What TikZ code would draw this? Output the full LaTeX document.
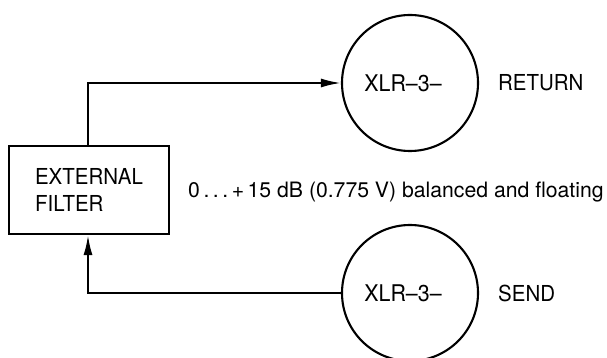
\documentclass[tikz,border=0pt]{standalone}
\usepackage{fontspec}
\setmainfont{TeX Gyre Heros}
\newfontfamily\condfont[FakeStretch=0.93]{TeX Gyre Heros}
\usetikzlibrary{arrows.meta}
\begin{document}
\begin{tikzpicture}[x=1pt,y=1pt,
  line/.style={line width=2.1pt},
  tip/.style={-{Latex[length=20pt,width=9pt]}},
  lbl/.style={font=\condfont\fontsize{22}{27}\selectfont, inner sep=0pt},
  filterbox/.style={draw, line width=2.1pt, minimum width=160pt, minimum height=88pt, inner sep=0pt, align=left, font=\condfont\fontsize{22}{27}\selectfont},
  conn/.style={draw, circle, line width=2.1pt, minimum size=136pt, inner sep=0pt, font=\condfont\fontsize{23}{26}\selectfont}]
\useasboundingbox (0,0) rectangle (607,358);
\node[filterbox] (filt) at (89,168) {EXTERNAL\\FILTER};
\node[conn] (ret) at (410,275) {\hspace*{-14pt}XLR–3–};
\node[conn] (snd) at (410,65) {\hspace*{-14pt}XLR–3–};
\node[lbl, anchor=west] (retl) at (498,275) {RETURN};
\node[lbl, anchor=west] (sndl) at (498,65) {SEND};
\node[anchor=west, inner sep=0pt, font=\fontsize{21.2}{24}\selectfont] (spec) at (188,166) {0\,.\,.\,.\,+\,15 dB (0.775 V) balanced and floating};
\coordinate (c1) at (88,275);
\coordinate (c2) at (88,65);
\draw[line, tip] (filt.north -| c1) -- (c1) -- (ret.west);
\draw[line, tip] (snd.west) -- (c2) -- (filt.south -| c2);
\end{tikzpicture}
\end{document}
